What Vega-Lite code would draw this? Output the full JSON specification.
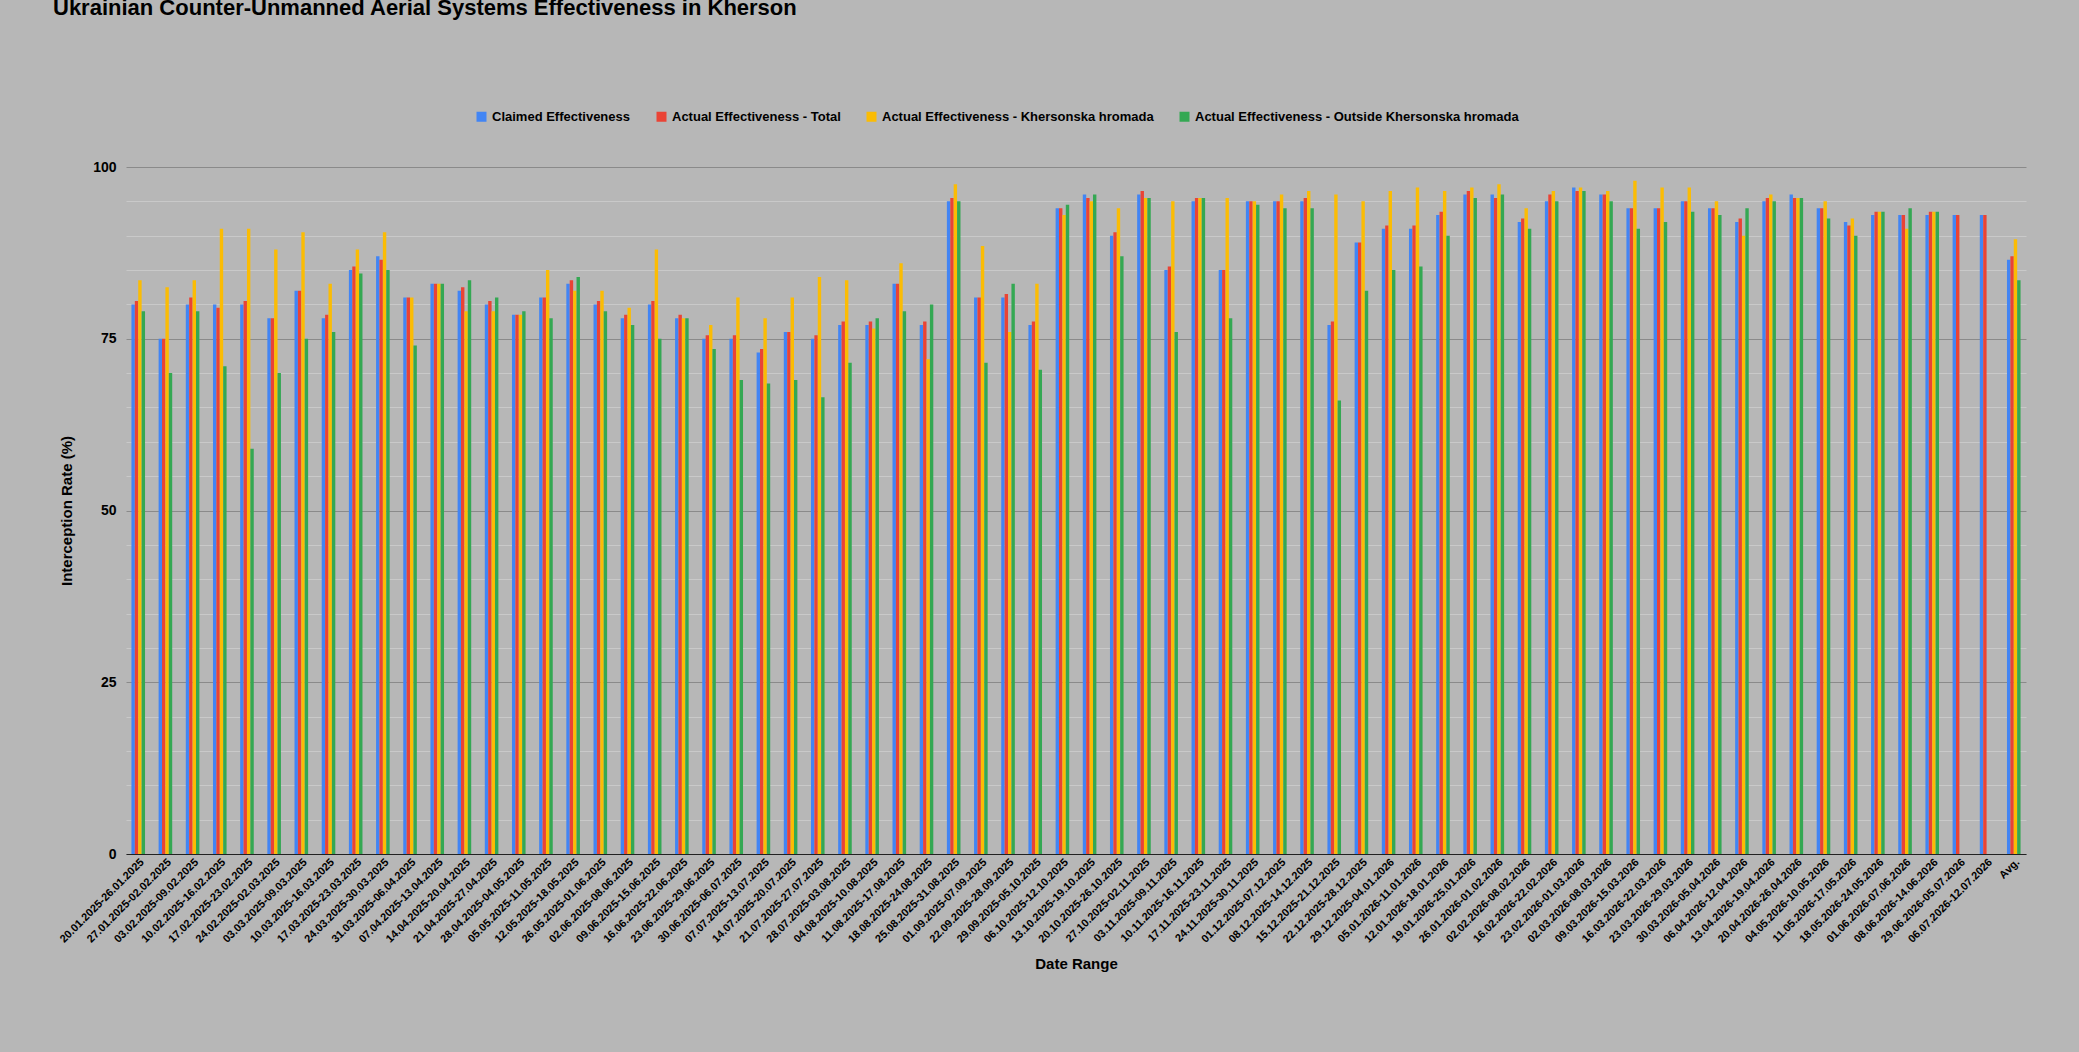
{
"$schema":"https://vega.github.io/schema/vega-lite/v6.json",
"autosize":"none",
"width":1900,"height":687,
"padding":{"left":126,"top":167,"right":53,"bottom":198},
"background":"#b7b7b7",
"title":{"text":"Ukrainian Counter-Unmanned Aerial Systems Effectiveness in Kherson","anchor":"start","frame":"group","dx":-73,"offset":90,"fontSize":22,"font":"Liberation Sans","fontWeight":"bold","color":"#000"},
"data":{"values":[
{"d":"20.01.2025-26.01.2025","c":80,"t":80.5,"k":83.5,"o":79},
{"d":"27.01.2025-02.02.2025","c":75,"t":75,"k":82.5,"o":70},
{"d":"03.02.2025-09.02.2025","c":80,"t":81,"k":83.5,"o":79},
{"d":"10.02.2025-16.02.2025","c":80,"t":79.5,"k":91,"o":71},
{"d":"17.02.2025-23.02.2025","c":80,"t":80.5,"k":91,"o":59},
{"d":"24.02.2025-02.03.2025","c":78,"t":78,"k":88,"o":70},
{"d":"03.03.2025-09.03.2025","c":82,"t":82,"k":90.5,"o":75},
{"d":"10.03.2025-16.03.2025","c":78,"t":78.5,"k":83,"o":76},
{"d":"17.03.2025-23.03.2025","c":85,"t":85.5,"k":88,"o":84.5},
{"d":"24.03.2025-30.03.2025","c":87,"t":86.5,"k":90.5,"o":85},
{"d":"31.03.2025-06.04.2025","c":81,"t":81,"k":81,"o":74},
{"d":"07.04.2025-13.04.2025","c":83,"t":83,"k":83,"o":83},
{"d":"14.04.2025-20.04.2025","c":82,"t":82.5,"k":79,"o":83.5},
{"d":"21.04.2025-27.04.2025","c":80,"t":80.5,"k":79,"o":81},
{"d":"28.04.2025-04.05.2025","c":78.5,"t":78.5,"k":78.5,"o":79},
{"d":"05.05.2025-11.05.2025","c":81,"t":81,"k":85,"o":78},
{"d":"12.05.2025-18.05.2025","c":83,"t":83.5,"k":82,"o":84},
{"d":"19.05.2025-25.05.2025","c":null,"t":null,"k":null,"o":null},
{"d":"26.05.2025-01.06.2025","c":80,"t":80.5,"k":82,"o":79},
{"d":"02.06.2025-08.06.2025","c":78,"t":78.5,"k":79.5,"o":77},
{"d":"09.06.2025-15.06.2025","c":80,"t":80.5,"k":88,"o":75},
{"d":"16.06.2025-22.06.2025","c":78,"t":78.5,"k":78,"o":78},
{"d":"23.06.2025-29.06.2025","c":75,"t":75.5,"k":77,"o":73.5},
{"d":"30.06.2025-06.07.2025","c":75,"t":75.5,"k":81,"o":69},
{"d":"07.07.2025-13.07.2025","c":73,"t":73.5,"k":78,"o":68.5},
{"d":"14.07.2025-20.07.2025","c":76,"t":76,"k":81,"o":69},
{"d":"21.07.2025-27.07.2025","c":75,"t":75.5,"k":84,"o":66.5},
{"d":"28.07.2025-03.08.2025","c":77,"t":77.5,"k":83.5,"o":71.5},
{"d":"04.08.2025-10.08.2025","c":77,"t":77.5,"k":76.5,"o":78},
{"d":"11.08.2025-17.08.2025","c":83,"t":83,"k":86,"o":79},
{"d":"18.08.2025-24.08.2025","c":77,"t":77.5,"k":72,"o":80},
{"d":"25.08.2025-31.08.2025","c":95,"t":95.5,"k":97.5,"o":95},
{"d":"01.09.2025-07.09.2025","c":81,"t":81,"k":88.5,"o":71.5},
{"d":"08.09.2025-14.09.2025","c":null,"t":null,"k":null,"o":null},
{"d":"15.09.2025-21.09.2025","c":null,"t":null,"k":null,"o":null},
{"d":"22.09.2025-28.09.2025","c":81,"t":81.5,"k":76,"o":83},
{"d":"29.09.2025-05.10.2025","c":77,"t":77.5,"k":83,"o":70.5},
{"d":"06.10.2025-12.10.2025","c":94,"t":94,"k":93,"o":94.5},
{"d":"13.10.2025-19.10.2025","c":96,"t":95.5,"k":95,"o":96},
{"d":"20.10.2025-26.10.2025","c":90,"t":90.5,"k":94,"o":87},
{"d":"27.10.2025-02.11.2025","c":96,"t":96.5,"k":95.5,"o":95.5},
{"d":"03.11.2025-09.11.2025","c":85,"t":85.5,"k":95,"o":76},
{"d":"10.11.2025-16.11.2025","c":95,"t":95.5,"k":95.5,"o":95.5},
{"d":"17.11.2025-23.11.2025","c":85,"t":85,"k":95.5,"o":78},
{"d":"24.11.2025-30.11.2025","c":95,"t":95,"k":95,"o":94.5},
{"d":"01.12.2025-07.12.2025","c":95,"t":95,"k":96,"o":94},
{"d":"08.12.2025-14.12.2025","c":95,"t":95.5,"k":96.5,"o":94},
{"d":"15.12.2025-21.12.2025","c":77,"t":77.5,"k":96,"o":66},
{"d":"22.12.2025-28.12.2025","c":89,"t":89,"k":95,"o":82},
{"d":"29.12.2025-04.01.2026","c":91,"t":91.5,"k":96.5,"o":85},
{"d":"05.01.2026-11.01.2026","c":91,"t":91.5,"k":97,"o":85.5},
{"d":"12.01.2026-18.01.2026","c":93,"t":93.5,"k":96.5,"o":90},
{"d":"19.01.2026-25.01.2026","c":96,"t":96.5,"k":97,"o":95.5},
{"d":"26.01.2026-01.02.2026","c":96,"t":95.5,"k":97.5,"o":96},
{"d":"02.02.2026-08.02.2026","c":92,"t":92.5,"k":94,"o":91},
{"d":"09.02.2026-15.02.2026","c":null,"t":null,"k":null,"o":null},
{"d":"16.02.2026-22.02.2026","c":95,"t":96,"k":96.5,"o":95},
{"d":"23.02.2026-01.03.2026","c":97,"t":96.5,"k":97,"o":96.5},
{"d":"02.03.2026-08.03.2026","c":96,"t":96,"k":96.5,"o":95},
{"d":"09.03.2026-15.03.2026","c":94,"t":94,"k":98,"o":91},
{"d":"16.03.2026-22.03.2026","c":94,"t":94,"k":97,"o":92},
{"d":"23.03.2026-29.03.2026","c":95,"t":95,"k":97,"o":93.5},
{"d":"30.03.2026-05.04.2026","c":94,"t":94,"k":95,"o":93},
{"d":"06.04.2026-12.04.2026","c":92,"t":92.5,"k":90,"o":94},
{"d":"13.04.2026-19.04.2026","c":95,"t":95.5,"k":96,"o":95},
{"d":"20.04.2026-26.04.2026","c":96,"t":95.5,"k":95.5,"o":95.5},
{"d":"27.04.2026-03.05.2026","c":null,"t":null,"k":null,"o":null},
{"d":"04.05.2026-10.05.2026","c":94,"t":94,"k":95,"o":92.5},
{"d":"11.05.2026-17.05.2026","c":92,"t":91.5,"k":92.5,"o":90},
{"d":"18.05.2026-24.05.2026","c":93,"t":93.5,"k":93.5,"o":93.5},
{"d":"25.05.2026-31.05.2026","c":null,"t":null,"k":null,"o":null},
{"d":"01.06.2026-07.06.2026","c":93,"t":93,"k":91,"o":94},
{"d":"08.06.2026-14.06.2026","c":93,"t":93.5,"k":93.5,"o":93.5},
{"d":"15.06.2026-21.06.2026","c":null,"t":null,"k":null,"o":null},
{"d":"22.06.2026-28.06.2026","c":null,"t":null,"k":null,"o":null},
{"d":"29.06.2026-05.07.2026","c":93,"t":93,"k":null,"o":null},
{"d":"06.07.2026-12.07.2026","c":93,"t":93,"k":null,"o":null},
{"d":"Avg.","c":86.5,"t":87,"k":89.5,"o":83.5}
]},
"transform":[
{"fold":["c","t","k","o"],"as":["s","v"]},
{"calculate":"{'c':'Claimed Effectiveness','t':'Actual Effectiveness - Total','k':'Actual Effectiveness - Khersonska hromada','o':'Actual Effectiveness - Outside Khersonska hromada'}[datum.s]","as":"Series"}
],
"mark":{"type":"bar","invalid":"break-paths-show-domains"},
"encoding":{
"x":{"field":"d","type":"nominal","sort":null,"title":"Date Range","scale":{"paddingInner":0.5,"paddingOuter":0.2},
"axis":{"labelAngle":-45,"labelFontSize":11,"labelFont":"Liberation Sans","labelFontWeight":"bold","labelColor":"#000","titleFontSize":15,"titleFont":"Liberation Sans","titleFontWeight":"bold","titleColor":"#000","titlePadding":12,"ticks":false,"domainColor":"#222","labelOverlap":false}},
"xOffset":{"field":"Series","type":"nominal","sort":["Claimed Effectiveness","Actual Effectiveness - Total","Actual Effectiveness - Khersonska hromada","Actual Effectiveness - Outside Khersonska hromada"]},
"y":{"field":"v","type":"quantitative","title":"Interception Rate (%)","scale":{"domain":[0,100]},
"axis":{"values":[0,5,10,15,20,25,30,35,40,45,50,55,60,65,70,75,80,85,90,95,100],"labelExpr":"datum.value % 25 === 0 ? datum.label : ''","ticks":false,"domain":false,
"gridColor":{"condition":{"test":"datum.value % 25 === 0","value":"#8a8a8a"},"value":"#c9c9c9"},
"labelFontSize":14,"labelFont":"Liberation Sans","labelFontWeight":"bold","labelColor":"#000","labelPadding":10,"titleFontSize":15,"titleFont":"Liberation Sans","titleFontWeight":"bold","titleColor":"#000","titlePadding":18}},
"color":{"field":"Series","type":"nominal","sort":["Claimed Effectiveness","Actual Effectiveness - Total","Actual Effectiveness - Khersonska hromada","Actual Effectiveness - Outside Khersonska hromada"],
"scale":{"range":["#4285F4","#EA4335","#FBBC04","#34A853"]},
"legend":{"orient":"none","legendX":349,"legendY":-57,"direction":"horizontal","title":null,"symbolType":"square","symbolSize":100,"labelFontSize":13,"labelFont":"Liberation Sans","labelFontWeight":"bold","labelColor":"#000","labelLimit":0,"columnPadding":24}}
},
"config":{"view":{"stroke":null}}
}
